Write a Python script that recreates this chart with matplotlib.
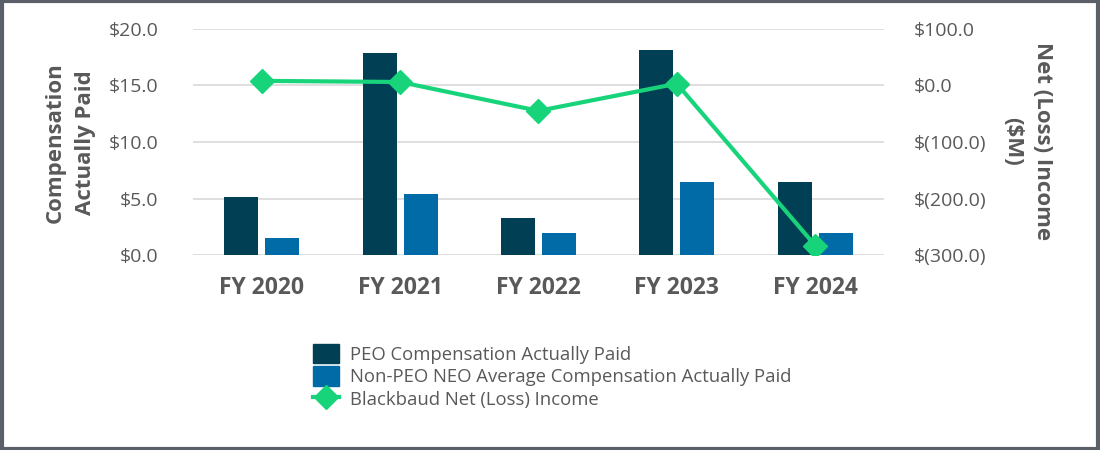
import numpy as np
import matplotlib.pyplot as plt
from matplotlib.lines import Line2D
from matplotlib.patches import Patch

# values
years = ['FY 2020', 'FY 2021', 'FY 2022', 'FY 2023', 'FY 2024']
peo_cap = [5.1, 17.9, 3.3, 18.1, 6.5]        # $M
neo_cap = [1.5, 5.4, 2.0, 6.5, 2.0]          # $M
net_income = [8.0, 6.0, -45.0, 3.0, -283.0]  # $M

c_peo = '#003f54'
c_neo = '#006ba6'
c_line = '#17d47b'
c_text = '#595959'

plt.rcParams['font.family'] = ['Open Sans', 'DejaVu Sans']

fig = plt.figure(figsize=(11, 4.5), dpi=100)
ax = fig.add_axes([0.175, 0.433, 0.629, 0.503])

x = np.arange(len(years))
w = 0.246
gap = 0.05
ax.bar(x - (w + gap) / 2, peo_cap, w, color=c_peo, zorder=3)
ax.bar(x + (w + gap) / 2, neo_cap, w, color=c_neo, zorder=3)

ax.set_ylim(0, 20)
ax.set_yticks([0, 5, 10, 15, 20])
ax.set_yticklabels(['$%.1f' % v for v in [0, 5, 10, 15, 20]])
ax.set_xlim(-0.5, len(years) - 0.5)
ax.set_xticks(x)
ax.set_xticklabels(years, fontsize=16.5, fontweight='bold', color=c_text)
ax.grid(axis='y', color='#d9d9d9', linewidth=1.2, zorder=0)
ax.set_axisbelow(True)
for s in ax.spines.values():
    s.set_visible(False)
ax.tick_params(axis='both', length=0, colors=c_text)
ax.tick_params(axis='y', labelsize=14, pad=24.5)
ax.tick_params(axis='x', pad=15)

ax2 = ax.twinx()
ax2.plot(x, net_income, color=c_line, linewidth=3, marker='D', markersize=12.5,
         zorder=5)
ax2.set_ylim(-300, 100)
ax2.set_yticks([-300, -200, -100, 0, 100])
labels = []
for v in [-300, -200, -100, 0, 100]:
    if v < 0:
        labels.append('$(%.1f)' % abs(v))
    else:
        labels.append('$%.1f' % v)
ax2.set_yticklabels(labels)
for s in ax2.spines.values():
    s.set_visible(False)
ax2.tick_params(axis='y', length=0, colors=c_text, labelsize=14, pad=21)

# axis titles
fig.text(0.064, 0.684, 'Compensation\nActually Paid', fontsize=16,
         fontweight='bold', color=c_text, rotation=90, ha='center',
         va='center', linespacing=1.55)
fig.text(0.9345, 0.686, 'Net (Loss) Income\n($M)', fontsize=16,
         fontweight='bold', color=c_text, rotation=270, ha='center',
         va='center', linespacing=1.55)

handles = [Patch(color=c_peo), Patch(color=c_neo),
           Line2D([], [], color=c_line, linewidth=3, marker='D',
                  markersize=12.5)]
names = ['PEO Compensation Actually Paid',
         'Non-PEO NEO Average Compensation Actually Paid',
         'Blackbaud Net (Loss) Income']
fig.legend(handles, names, loc='upper left', bbox_to_anchor=(0.2765, 0.257),
           frameon=False, fontsize=13.3, labelcolor=c_text, handlelength=1.4,
           handleheight=1.25, labelspacing=0.15, handletextpad=0.6,
           borderpad=0)

# grey outer frame
fig.patches.append(plt.Rectangle((0.002, 0.003), 0.996, 0.994,
                                 transform=fig.transFigure, fill=False,
                                 edgecolor='#5b6068', linewidth=3))

fig.savefig('out.png', dpi=100)
